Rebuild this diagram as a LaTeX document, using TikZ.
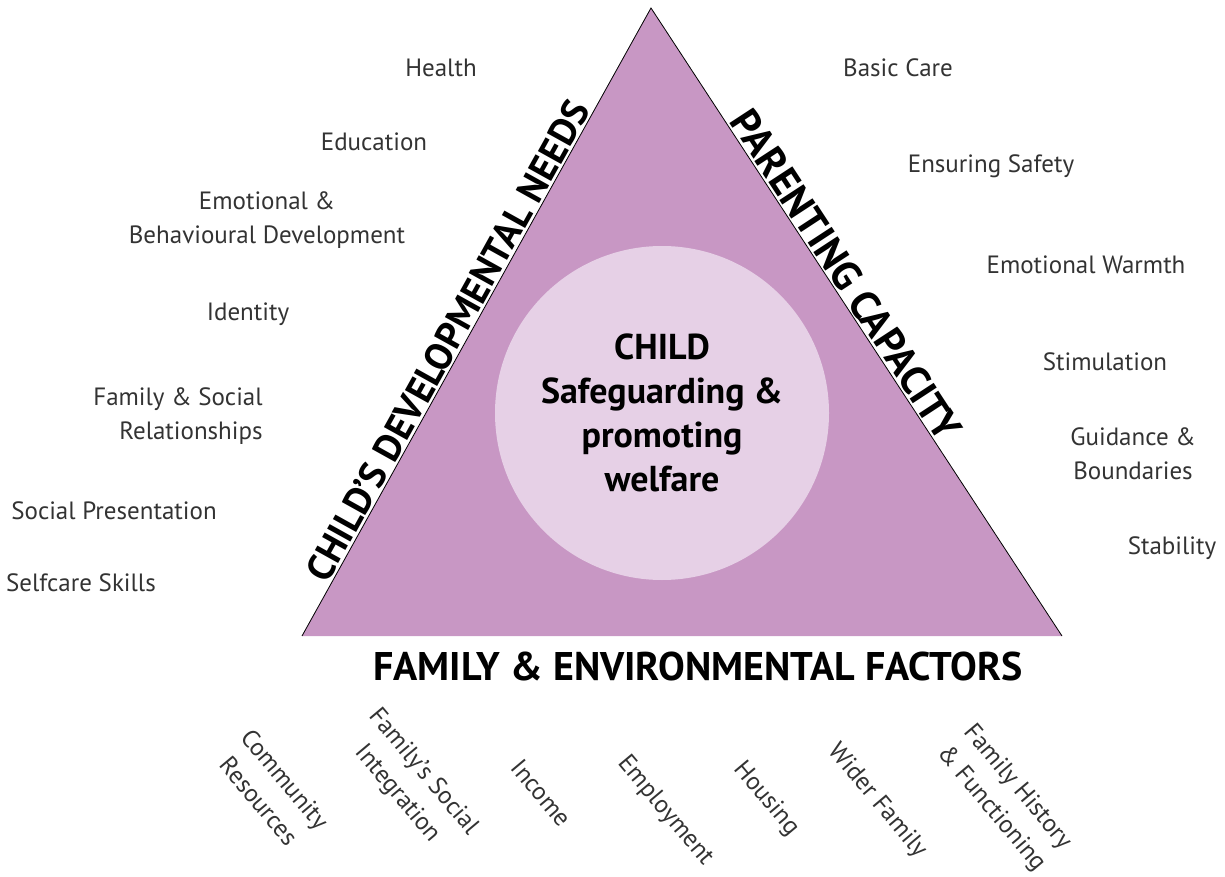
\documentclass[tikz,border=0pt]{standalone}
\usepackage{fontspec}
\setmainfont{PT Sans}
\usepackage{tikz}
\usetikzlibrary{positioning}
\definecolor{trifill}{RGB}{200,151,196}
\definecolor{circfill}{RGB}{230,208,230}
\tikzset{
  item/.style={font=\fontsize{25}{34}\selectfont, align=center, text=black!80, inner sep=0pt},
  rotitem/.style={item, rotate=-50},
  sidehead/.style={font=\bfseries\fontsize{40}{44}\selectfont, inner sep=3pt},
  childtext/.style={font=\bfseries\fontsize{36}{44}\selectfont, align=center},
}

\begin{document}
\begin{tikzpicture}[x=1pt,y=-1pt]
    \useasboundingbox (0,0) rectangle (1225,877);
      \coordinate (apex) at (651,8);
      \coordinate (left) at (302,636);
      \coordinate (right) at (1062,636);
      \fill[trifill] (left)--(apex)--(right)--cycle;
      \draw[line width=0.8pt] (left)--(apex)--(right);
      \node[circle, fill=circfill, minimum size=334pt, inner sep=0pt] at (662,413) (circ) {};
      \node[childtext] at (662,413) (child) {CHILD\\Safeguarding \&\\promoting\\welfare};
      \path (left)--(apex) node[sidehead, font=\bfseries\fontsize{38}{44}\selectfont, pos=0.458, sloped, anchor=south, inner sep=2pt] (needs) {CHILD’S DEVELOPMENTAL NEEDS};
      \path (apex)--(right) node[sidehead, font=\bfseries\fontsize{41}{44}\selectfont, pos=0.44, sloped, anchor=south, inner sep=2pt] (parenting) {PARENTING CAPACITY};
      \node[sidehead] at (698,666) (factors) {FAMILY \& ENVIRONMENTAL FACTORS};
      \node[item] at (441,68) (health) {Health};
      \node[item] at (374,142) (education) {Education};
      \node[item] at (267,220) (emotional) {Emotional \&\\Behavioural Development};
      \node[item] at (248,314) (identity) {Identity};
      \node[item, align=right] at (178,416) (familysocial) {Family \& Social\\Relationships};
      \node[item] at (114,511) (presentation) {Social Presentation};
      \node[item] at (81,583) (selfcare) {Selfcare Skills};
      \node[item] at (898,68) (basiccare) {Basic Care};
      \node[item] at (991,166) (safety) {Ensuring Safety};
      \node[item] at (1086,265) (warmth) {Emotional Warmth};
      \node[item] at (1105,362) (stimulation) {Stimulation};
      \node[item] at (1133,454) (guidance) {Guidance \&\\Boundaries};
      \node[item] at (1172,548) (stability) {Stability};
      \node[rotitem] at (272,790) (community) {Community\\Resources};
      \node[rotitem] at (410,783) (integration) {Family’s Social\\Integration};
      \node[rotitem] at (541,793) (income) {Income};
      \node[rotitem] at (665,811) (employment) {Employment};
      \node[rotitem] at (766,799) (housing) {Housing};
      \node[rotitem] at (877,801) (widerfamily) {Wider Family};
      \node[rotitem] at (1004,798) (history) {Family History\\\& Functioning};
\end{tikzpicture}
\end{document}
